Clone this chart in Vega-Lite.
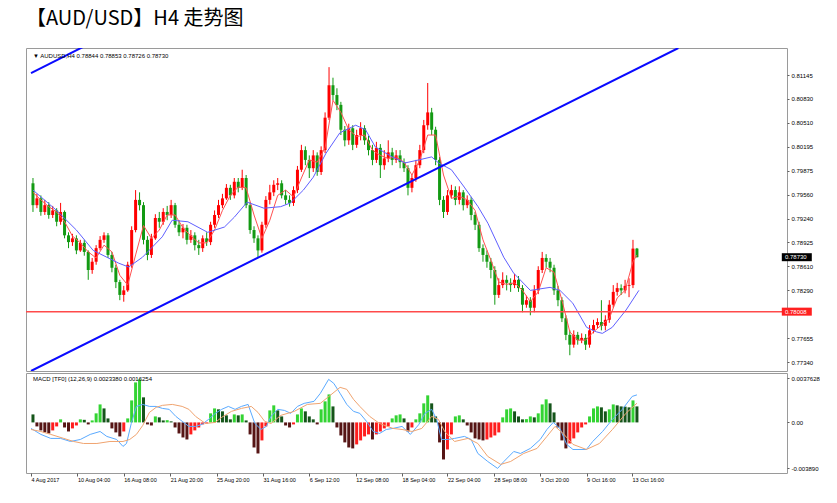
{
"$schema":"https://vega.github.io/schema/vega-lite/v6.json",
"background":"white",
"padding":{"left":24,"top":8,"right":0,"bottom":0},
"title":{"text":"【AUD/USD】H4 走势图","anchor":"start","frame":"group","font":"Noto Sans CJK SC","fontSize":20,"fontWeight":"normal","color":"#000000","offset":19},
"spacing":0,
"resolve":{"scale":{"x":"independent","y":"independent","color":"independent"}},
"config":{"view":{"stroke":"#9a9a9a","strokeWidth":1},"axis":{"labelFont":"Liberation Sans","labelFontSize":6,"labelColor":"#000000","tickColor":"#606060","tickSize":2,"domain":false,"grid":false,"labelPadding":2}},
"datasets":{
"k":[
{"i":0,"o":0.7971,"h":0.7978,"l":0.7933,"c":0.7942},
{"i":1,"o":0.7942,"h":0.7957,"l":0.7938,"c":0.7951},
{"i":2,"o":0.7951,"h":0.7955,"l":0.7928,"c":0.7933},
{"i":3,"o":0.7933,"h":0.7949,"l":0.7929,"c":0.7942},
{"i":4,"o":0.7942,"h":0.7946,"l":0.7924,"c":0.7929},
{"i":5,"o":0.7929,"h":0.7941,"l":0.7925,"c":0.7935},
{"i":6,"o":0.7935,"h":0.7938,"l":0.7914,"c":0.7920},
{"i":7,"o":0.7920,"h":0.7945,"l":0.7916,"c":0.7933},
{"i":8,"o":0.7933,"h":0.7935,"l":0.7898,"c":0.7902},
{"i":9,"o":0.7902,"h":0.7906,"l":0.7885,"c":0.7893},
{"i":10,"o":0.7893,"h":0.7904,"l":0.7888,"c":0.7898},
{"i":11,"o":0.7898,"h":0.7902,"l":0.7877,"c":0.7882},
{"i":12,"o":0.7882,"h":0.7896,"l":0.7880,"c":0.7892},
{"i":13,"o":0.7892,"h":0.7896,"l":0.7875,"c":0.7880},
{"i":14,"o":0.7880,"h":0.7882,"l":0.7843,"c":0.7856},
{"i":15,"o":0.7856,"h":0.7872,"l":0.7851,"c":0.7867},
{"i":16,"o":0.7867,"h":0.7889,"l":0.7863,"c":0.7885},
{"i":17,"o":0.7885,"h":0.7901,"l":0.7882,"c":0.7896},
{"i":18,"o":0.7896,"h":0.7906,"l":0.7892,"c":0.7902},
{"i":19,"o":0.7902,"h":0.7905,"l":0.7872,"c":0.7876},
{"i":20,"o":0.7876,"h":0.7880,"l":0.7853,"c":0.7859},
{"i":21,"o":0.7859,"h":0.7863,"l":0.7832,"c":0.7840},
{"i":22,"o":0.7840,"h":0.7843,"l":0.7816,"c":0.7823},
{"i":23,"o":0.7823,"h":0.7835,"l":0.7814,"c":0.7829},
{"i":24,"o":0.7829,"h":0.7867,"l":0.7827,"c":0.7863},
{"i":25,"o":0.7863,"h":0.7914,"l":0.7859,"c":0.7909},
{"i":26,"o":0.7909,"h":0.7962,"l":0.7906,"c":0.7949},
{"i":27,"o":0.7949,"h":0.7959,"l":0.7935,"c":0.7942},
{"i":28,"o":0.7942,"h":0.7946,"l":0.7890,"c":0.7896},
{"i":29,"o":0.7896,"h":0.7901,"l":0.7869,"c":0.7876},
{"i":30,"o":0.7876,"h":0.7904,"l":0.7872,"c":0.7898},
{"i":31,"o":0.7898,"h":0.7930,"l":0.7896,"c":0.7925},
{"i":32,"o":0.7925,"h":0.7933,"l":0.7912,"c":0.7920},
{"i":33,"o":0.7920,"h":0.7938,"l":0.7916,"c":0.7933},
{"i":34,"o":0.7933,"h":0.7941,"l":0.7922,"c":0.7929},
{"i":35,"o":0.7929,"h":0.7949,"l":0.7925,"c":0.7942},
{"i":36,"o":0.7942,"h":0.7945,"l":0.7912,"c":0.7916},
{"i":37,"o":0.7916,"h":0.7922,"l":0.7901,"c":0.7906},
{"i":38,"o":0.7906,"h":0.7917,"l":0.7898,"c":0.7912},
{"i":39,"o":0.7912,"h":0.7916,"l":0.7890,"c":0.7896},
{"i":40,"o":0.7896,"h":0.7909,"l":0.7892,"c":0.7902},
{"i":41,"o":0.7902,"h":0.7906,"l":0.7882,"c":0.7889},
{"i":42,"o":0.7889,"h":0.7896,"l":0.7876,"c":0.7885},
{"i":43,"o":0.7885,"h":0.7902,"l":0.7880,"c":0.7898},
{"i":44,"o":0.7898,"h":0.7906,"l":0.7888,"c":0.7893},
{"i":45,"o":0.7893,"h":0.7920,"l":0.7889,"c":0.7916},
{"i":46,"o":0.7916,"h":0.7935,"l":0.7912,"c":0.7929},
{"i":47,"o":0.7929,"h":0.7949,"l":0.7925,"c":0.7942},
{"i":48,"o":0.7942,"h":0.7957,"l":0.7938,"c":0.7951},
{"i":49,"o":0.7951,"h":0.7970,"l":0.7949,"c":0.7965},
{"i":50,"o":0.7965,"h":0.7969,"l":0.7949,"c":0.7955},
{"i":51,"o":0.7955,"h":0.7978,"l":0.7951,"c":0.7973},
{"i":52,"o":0.7973,"h":0.7978,"l":0.7959,"c":0.7965},
{"i":53,"o":0.7965,"h":0.7989,"l":0.7962,"c":0.7978},
{"i":54,"o":0.7978,"h":0.7982,"l":0.7938,"c":0.7942},
{"i":55,"o":0.7942,"h":0.7946,"l":0.7904,"c":0.7909},
{"i":56,"o":0.7909,"h":0.7914,"l":0.7892,"c":0.7898},
{"i":57,"o":0.7898,"h":0.7902,"l":0.7872,"c":0.7882},
{"i":58,"o":0.7882,"h":0.7920,"l":0.7879,"c":0.7916},
{"i":59,"o":0.7916,"h":0.7954,"l":0.7912,"c":0.7949},
{"i":60,"o":0.7949,"h":0.7969,"l":0.7943,"c":0.7959},
{"i":61,"o":0.7959,"h":0.7975,"l":0.7954,"c":0.7969},
{"i":62,"o":0.7969,"h":0.7978,"l":0.7962,"c":0.7971},
{"i":63,"o":0.7971,"h":0.7975,"l":0.7951,"c":0.7955},
{"i":64,"o":0.7955,"h":0.7962,"l":0.7943,"c":0.7949},
{"i":65,"o":0.7949,"h":0.7955,"l":0.7940,"c":0.7945},
{"i":66,"o":0.7945,"h":0.7967,"l":0.7941,"c":0.7962},
{"i":67,"o":0.7962,"h":0.7994,"l":0.7958,"c":0.7989},
{"i":68,"o":0.7989,"h":0.8022,"l":0.7986,"c":0.8015},
{"i":69,"o":0.8015,"h":0.8020,"l":0.7995,"c":0.8002},
{"i":70,"o":0.8002,"h":0.8008,"l":0.7978,"c":0.7991},
{"i":71,"o":0.7991,"h":0.8015,"l":0.7986,"c":0.8008},
{"i":72,"o":0.8008,"h":0.8012,"l":0.7981,"c":0.7986},
{"i":73,"o":0.7986,"h":0.8020,"l":0.7982,"c":0.8015},
{"i":74,"o":0.8015,"h":0.8065,"l":0.8011,"c":0.8058},
{"i":75,"o":0.8058,"h":0.8125,"l":0.8055,"c":0.8101},
{"i":76,"o":0.8101,"h":0.8111,"l":0.8081,"c":0.8088},
{"i":77,"o":0.8088,"h":0.8097,"l":0.8068,"c":0.8075},
{"i":78,"o":0.8075,"h":0.8079,"l":0.8035,"c":0.8042},
{"i":79,"o":0.8042,"h":0.8047,"l":0.8020,"c":0.8028},
{"i":80,"o":0.8028,"h":0.8050,"l":0.8022,"c":0.8044},
{"i":81,"o":0.8044,"h":0.8048,"l":0.8015,"c":0.8022},
{"i":82,"o":0.8022,"h":0.8042,"l":0.8018,"c":0.8035},
{"i":83,"o":0.8035,"h":0.8052,"l":0.8028,"c":0.8044},
{"i":84,"o":0.8044,"h":0.8048,"l":0.8022,"c":0.8028},
{"i":85,"o":0.8028,"h":0.8034,"l":0.8008,"c":0.8015},
{"i":86,"o":0.8015,"h":0.8022,"l":0.7995,"c":0.8002},
{"i":87,"o":0.8002,"h":0.8026,"l":0.7998,"c":0.8018},
{"i":88,"o":0.8018,"h":0.8023,"l":0.7978,"c":0.7995},
{"i":89,"o":0.7995,"h":0.8015,"l":0.7989,"c":0.8004},
{"i":90,"o":0.8004,"h":0.8028,"l":0.7999,"c":0.8012},
{"i":91,"o":0.8012,"h":0.8018,"l":0.7995,"c":0.8002},
{"i":92,"o":0.8002,"h":0.8015,"l":0.7998,"c":0.8008},
{"i":93,"o":0.8008,"h":0.8015,"l":0.7991,"c":0.7999},
{"i":94,"o":0.7999,"h":0.8004,"l":0.7986,"c":0.7991},
{"i":95,"o":0.7991,"h":0.7995,"l":0.7955,"c":0.7965},
{"i":96,"o":0.7965,"h":0.7983,"l":0.7959,"c":0.7978},
{"i":97,"o":0.7978,"h":0.8002,"l":0.7973,"c":0.7995},
{"i":98,"o":0.7995,"h":0.8022,"l":0.7991,"c":0.8015},
{"i":99,"o":0.8015,"h":0.8055,"l":0.8011,"c":0.8048},
{"i":100,"o":0.8048,"h":0.8104,"l":0.8042,"c":0.8065},
{"i":101,"o":0.8065,"h":0.8071,"l":0.8035,"c":0.8042},
{"i":102,"o":0.8042,"h":0.8046,"l":0.7995,"c":0.8002},
{"i":103,"o":0.8002,"h":0.8006,"l":0.7942,"c":0.7949},
{"i":104,"o":0.7949,"h":0.7954,"l":0.7925,"c":0.7933},
{"i":105,"o":0.7933,"h":0.7962,"l":0.7929,"c":0.7955},
{"i":106,"o":0.7955,"h":0.7969,"l":0.7951,"c":0.7962},
{"i":107,"o":0.7962,"h":0.7967,"l":0.7942,"c":0.7949},
{"i":108,"o":0.7949,"h":0.7967,"l":0.7943,"c":0.7959},
{"i":109,"o":0.7959,"h":0.7962,"l":0.7935,"c":0.7942},
{"i":110,"o":0.7942,"h":0.7955,"l":0.7938,"c":0.7949},
{"i":111,"o":0.7949,"h":0.7953,"l":0.7922,"c":0.7929},
{"i":112,"o":0.7929,"h":0.7933,"l":0.7909,"c":0.7916},
{"i":113,"o":0.7916,"h":0.7920,"l":0.7880,"c":0.7885},
{"i":114,"o":0.7885,"h":0.7890,"l":0.7867,"c":0.7876},
{"i":115,"o":0.7876,"h":0.7882,"l":0.7859,"c":0.7867},
{"i":116,"o":0.7867,"h":0.7872,"l":0.7845,"c":0.7856},
{"i":117,"o":0.7856,"h":0.7861,"l":0.7810,"c":0.7823},
{"i":118,"o":0.7823,"h":0.7845,"l":0.7819,"c":0.7836},
{"i":119,"o":0.7836,"h":0.7853,"l":0.7832,"c":0.7843},
{"i":120,"o":0.7843,"h":0.7849,"l":0.7829,"c":0.7839},
{"i":121,"o":0.7839,"h":0.7845,"l":0.7827,"c":0.7836},
{"i":122,"o":0.7836,"h":0.7851,"l":0.7832,"c":0.7843},
{"i":123,"o":0.7843,"h":0.7848,"l":0.7827,"c":0.7832},
{"i":124,"o":0.7832,"h":0.7836,"l":0.7800,"c":0.7810},
{"i":125,"o":0.7810,"h":0.7822,"l":0.7806,"c":0.7816},
{"i":126,"o":0.7816,"h":0.7820,"l":0.7796,"c":0.7806},
{"i":127,"o":0.7806,"h":0.7836,"l":0.7800,"c":0.7829},
{"i":128,"o":0.7829,"h":0.7861,"l":0.7824,"c":0.7856},
{"i":129,"o":0.7856,"h":0.7880,"l":0.7852,"c":0.7872},
{"i":130,"o":0.7872,"h":0.7877,"l":0.7859,"c":0.7867},
{"i":131,"o":0.7867,"h":0.7872,"l":0.7853,"c":0.7859},
{"i":132,"o":0.7859,"h":0.7863,"l":0.7823,"c":0.7829},
{"i":133,"o":0.7829,"h":0.7835,"l":0.7808,"c":0.7816},
{"i":134,"o":0.7816,"h":0.7820,"l":0.7787,"c":0.7792},
{"i":135,"o":0.7792,"h":0.7796,"l":0.7763,"c":0.7770},
{"i":136,"o":0.7770,"h":0.7776,"l":0.7743,"c":0.7757},
{"i":137,"o":0.7757,"h":0.7776,"l":0.7753,"c":0.7770},
{"i":138,"o":0.7770,"h":0.7774,"l":0.7757,"c":0.7763},
{"i":139,"o":0.7763,"h":0.7772,"l":0.7759,"c":0.7766},
{"i":140,"o":0.7766,"h":0.7771,"l":0.7750,"c":0.7757},
{"i":141,"o":0.7757,"h":0.7783,"l":0.7753,"c":0.7776},
{"i":142,"o":0.7776,"h":0.7790,"l":0.7772,"c":0.7783},
{"i":143,"o":0.7783,"h":0.7792,"l":0.7779,"c":0.7787},
{"i":144,"o":0.7787,"h":0.7816,"l":0.7776,"c":0.7782},
{"i":145,"o":0.7782,"h":0.7796,"l":0.7776,"c":0.7790},
{"i":146,"o":0.7790,"h":0.7816,"l":0.7786,"c":0.7810},
{"i":147,"o":0.7810,"h":0.7836,"l":0.7806,"c":0.7827},
{"i":148,"o":0.7827,"h":0.7839,"l":0.7822,"c":0.7832},
{"i":149,"o":0.7832,"h":0.7837,"l":0.7823,"c":0.7829},
{"i":150,"o":0.7829,"h":0.7843,"l":0.7825,"c":0.7835},
{"i":151,"o":0.7835,"h":0.7845,"l":0.7820,"c":0.7836},
{"i":152,"o":0.7836,"h":0.7896,"l":0.7832,"c":0.78844},
{"i":153,"o":0.78844,"h":0.78853,"l":0.78726,"c":0.78730}
],
"rm":[
{"i":0,"v":0.7959},{"i":2,"v":0.7949},{"i":4,"v":0.7940},{"i":6,"v":0.7933},{"i":8,"v":0.7920},{"i":10,"v":0.7901},{"i":12,"v":0.7892},{"i":14,"v":0.7880},{"i":16,"v":0.7872},{"i":18,"v":0.7889},{"i":20,"v":0.7880},{"i":22,"v":0.7849},{"i":24,"v":0.7836},{"i":26,"v":0.7876},{"i":28,"v":0.7915},{"i":30,"v":0.7898},{"i":32,"v":0.7909},{"i":34,"v":0.7929},{"i":36,"v":0.7929},{"i":38,"v":0.7912},{"i":40,"v":0.7901},{"i":42,"v":0.7892},{"i":44,"v":0.7892},{"i":46,"v":0.7909},{"i":48,"v":0.7935},{"i":50,"v":0.7955},{"i":52,"v":0.7966},{"i":54,"v":0.7965},{"i":56,"v":0.7929},{"i":58,"v":0.7898},{"i":60,"v":0.7922},{"i":62,"v":0.7955},{"i":64,"v":0.7962},{"i":66,"v":0.7953},{"i":68,"v":0.7978},{"i":70,"v":0.8002},{"i":72,"v":0.7999},{"i":74,"v":0.8018},{"i":76,"v":0.8081},{"i":78,"v":0.8065},{"i":80,"v":0.8042},{"i":82,"v":0.8033},{"i":84,"v":0.8035},{"i":86,"v":0.8015},{"i":88,"v":0.8008},{"i":90,"v":0.8004},{"i":92,"v":0.8006},{"i":94,"v":0.7999},{"i":96,"v":0.7982},{"i":98,"v":0.8002},{"i":100,"v":0.8035},{"i":102,"v":0.8035},{"i":104,"v":0.7982},{"i":106,"v":0.7951},{"i":108,"v":0.7954},{"i":110,"v":0.7949},{"i":112,"v":0.7935},{"i":114,"v":0.7896},{"i":116,"v":0.7869},{"i":118,"v":0.7840},{"i":120,"v":0.7837},{"i":122,"v":0.7839},{"i":124,"v":0.7829},{"i":126,"v":0.7814},{"i":128,"v":0.7827},{"i":130,"v":0.7859},{"i":132,"v":0.7853},{"i":134,"v":0.7816},{"i":136,"v":0.7774},{"i":138,"v":0.7763},{"i":140,"v":0.7763},{"i":142,"v":0.7774},{"i":144,"v":0.7783},{"i":146,"v":0.7792},{"i":148,"v":0.7819},{"i":150,"v":0.7829},{"i":152,"v":0.7867},{"i":153,"v":0.7876}
],
"bm":[
{"i":0,"v":0.7962},{"i":6,"v":0.7935},{"i":11,"v":0.7909},{"i":15.25,"v":0.7882},{"i":21.75,"v":0.7865},{"i":24.25,"v":0.7860},{"i":27.75,"v":0.7873},{"i":32.75,"v":0.7900},{"i":35.25,"v":0.7922},{"i":39.25,"v":0.7920},{"i":44.25,"v":0.7906},{"i":48.5,"v":0.7913},{"i":51,"v":0.7926},{"i":54.25,"v":0.7946},{"i":58.5,"v":0.7938},{"i":62.75,"v":0.7940},{"i":65.25,"v":0.7945},{"i":68.5,"v":0.7962},{"i":71,"v":0.7979},{"i":74.25,"v":0.8011},{"i":77.75,"v":0.8038},{"i":81.75,"v":0.8048},{"i":84.25,"v":0.8042},{"i":86.75,"v":0.8019},{"i":91,"v":0.8006},{"i":94.25,"v":0.7998},{"i":97.75,"v":0.8002},{"i":101,"v":0.8006},{"i":102.75,"v":0.7998},{"i":106,"v":0.7989},{"i":109.25,"v":0.7966},{"i":112.75,"v":0.7940},{"i":115.25,"v":0.7918},{"i":119.25,"v":0.7873},{"i":121.75,"v":0.7852},{"i":126,"v":0.7829},{"i":131,"v":0.7833},{"i":133.5,"v":0.7829},{"i":136.75,"v":0.7812},{"i":140.25,"v":0.7780},{"i":142.75,"v":0.7774},{"i":144.25,"v":0.7772},{"i":146.75,"v":0.7780},{"i":150.25,"v":0.7803},{"i":153.5,"v":0.7829}
],
"tl":[
{"g":"a","i":-0.5,"p":0.77221},{"g":"a","i":163.5,"p":0.81504},
{"g":"b","i":-0.5,"p":0.81172},{"g":"b","i":20,"p":0.8171}
],
"pl":[
{"p":0.7873,"t":"0.78730","kind":"last"},
{"p":0.78008,"t":"0.78008","kind":"line"}
],
"mh":[
{"i":0,"m":0.00068,"k":"dg"},{"i":1,"m":-0.00034,"k":"dr"},{"i":2,"m":-0.00068,"k":"dr"},{"i":3,"m":-0.00085,"k":"dr"},{"i":4,"m":-0.00094,"k":"dr"},{"i":5,"m":-0.00068,"k":"ur"},{"i":6,"m":-0.00034,"k":"ur"},{"i":7,"m":0.00026,"k":"ug"},{"i":8,"m":-0.00043,"k":"dr"},{"i":9,"m":-0.00077,"k":"dr"},
{"i":10,"m":-0.00051,"k":"ur"},{"i":11,"m":-0.00026,"k":"ur"},{"i":12,"m":0.00026,"k":"ug"},{"i":13,"m":0.00022,"k":"dg"},{"i":14,"m":-0.00017,"k":"dr"},{"i":15,"m":0.00017,"k":"ug"},{"i":16,"m":0.00077,"k":"ug"},{"i":17,"m":0.00153,"k":"ug"},{"i":18,"m":0.00119,"k":"dg"},{"i":19,"m":0.00034,"k":"dg"},
{"i":20,"m":-0.00051,"k":"dr"},{"i":21,"m":-0.00085,"k":"dr"},{"i":22,"m":-0.00119,"k":"dr"},{"i":23,"m":-0.00077,"k":"ur"},{"i":24,"m":0.00034,"k":"ug"},{"i":25,"m":0.00187,"k":"ug"},{"i":26,"m":0.0034,"k":"ug"},{"i":27,"m":0.00366,"k":"ug"},{"i":28,"m":0.00213,"k":"dg"},{"i":29,"m":-0.00017,"k":"dr"},
{"i":30,"m":-0.00026,"k":"dr"},{"i":31,"m":0.00051,"k":"ug"},{"i":32,"m":0.00043,"k":"dg"},{"i":33,"m":0.00017,"k":"dg"},{"i":34,"m":0.00019,"k":"ug"},{"i":35,"m":0.00009,"k":"dg"},{"i":36,"m":-0.00043,"k":"dr"},{"i":37,"m":-0.00094,"k":"dr"},{"i":38,"m":-0.00128,"k":"dr"},{"i":39,"m":-0.00145,"k":"dr"},
{"i":40,"m":-0.00102,"k":"ur"},{"i":41,"m":-0.00068,"k":"ur"},{"i":42,"m":-0.00043,"k":"ur"},{"i":43,"m":-0.00017,"k":"ur"},{"i":44,"m":-0.00009,"k":"ur"},{"i":45,"m":0.00077,"k":"ug"},{"i":46,"m":0.00119,"k":"ug"},{"i":47,"m":0.00111,"k":"dg"},{"i":48,"m":0.00094,"k":"dg"},{"i":49,"m":0.0006,"k":"dg"},
{"i":50,"m":0.00026,"k":"dg"},{"i":51,"m":0.00068,"k":"ug"},{"i":52,"m":0.0006,"k":"dg"},{"i":53,"m":0.00068,"k":"ug"},{"i":54,"m":0.00017,"k":"dg"},{"i":55,"m":-0.00102,"k":"dr"},{"i":56,"m":-0.00213,"k":"dr"},{"i":57,"m":-0.00264,"k":"dr"},{"i":58,"m":-0.00153,"k":"ur"},{"i":59,"m":-0.00034,"k":"ur"},
{"i":60,"m":0.00102,"k":"ug"},{"i":61,"m":0.00145,"k":"ug"},{"i":62,"m":0.00102,"k":"dg"},{"i":63,"m":0.00051,"k":"dg"},{"i":64,"m":-0.00026,"k":"dr"},{"i":65,"m":-0.00043,"k":"dr"},{"i":66,"m":-0.00017,"k":"ur"},{"i":67,"m":0.00068,"k":"ug"},{"i":68,"m":0.00119,"k":"ug"},{"i":69,"m":0.00094,"k":"dg"},
{"i":70,"m":0.00051,"k":"dg"},{"i":71,"m":0.00026,"k":"dg"},{"i":72,"m":-0.00017,"k":"dr"},{"i":73,"m":0.00111,"k":"ug"},{"i":74,"m":0.00179,"k":"ug"},{"i":75,"m":0.00238,"k":"ug"},{"i":76,"m":0.00136,"k":"dg"},{"i":77,"m":-0.00043,"k":"dr"},{"i":78,"m":-0.00111,"k":"dr"},{"i":79,"m":-0.0017,"k":"dr"},
{"i":80,"m":-0.00213,"k":"dr"},{"i":81,"m":-0.00221,"k":"dr"},{"i":82,"m":-0.00187,"k":"ur"},{"i":83,"m":-0.00153,"k":"ur"},{"i":84,"m":-0.00119,"k":"ur"},{"i":85,"m":-0.00102,"k":"ur"},{"i":86,"m":-0.00145,"k":"dr"},{"i":87,"m":-0.00102,"k":"ur"},{"i":88,"m":-0.00077,"k":"ur"},{"i":89,"m":-0.00051,"k":"ur"},
{"i":90,"m":-0.00034,"k":"ur"},{"i":91,"m":0.00034,"k":"ug"},{"i":92,"m":0.0006,"k":"ug"},{"i":93,"m":0.00068,"k":"ug"},{"i":94,"m":0.00034,"k":"dg"},{"i":95,"m":-0.00077,"k":"dr"},{"i":96,"m":-0.00043,"k":"ur"},{"i":97,"m":0.00026,"k":"ug"},{"i":98,"m":0.00077,"k":"ug"},{"i":99,"m":0.00162,"k":"ug"},
{"i":100,"m":0.0023,"k":"ug"},{"i":101,"m":0.00162,"k":"dg"},{"i":102,"m":0.00051,"k":"dg"},{"i":103,"m":-0.0017,"k":"dr"},{"i":104,"m":-0.00315,"k":"dr"},{"i":105,"m":-0.0023,"k":"ur"},{"i":106,"m":-0.00102,"k":"ur"},{"i":107,"m":0.00051,"k":"ug"},{"i":108,"m":0.0006,"k":"ug"},{"i":109,"m":0.00026,"k":"dg"},
{"i":110,"m":-0.00026,"k":"dr"},{"i":111,"m":-0.00085,"k":"dr"},{"i":112,"m":-0.00136,"k":"dr"},{"i":113,"m":-0.00145,"k":"dr"},{"i":114,"m":-0.00153,"k":"dr"},{"i":115,"m":-0.00145,"k":"ur"},{"i":116,"m":-0.00128,"k":"ur"},{"i":117,"m":-0.00111,"k":"ur"},{"i":118,"m":-0.00085,"k":"ur"},{"i":119,"m":0.00043,"k":"ug"},
{"i":120,"m":0.00111,"k":"ug"},{"i":121,"m":0.00119,"k":"ug"},{"i":122,"m":0.00094,"k":"dg"},{"i":123,"m":0.00051,"k":"dg"},{"i":124,"m":0.00026,"k":"dg"},{"i":125,"m":0.00028,"k":"ug"},{"i":126,"m":0.00051,"k":"ug"},{"i":127,"m":0.00043,"k":"dg"},{"i":128,"m":0.00077,"k":"ug"},{"i":129,"m":0.00153,"k":"ug"},
{"i":130,"m":0.00196,"k":"ug"},{"i":131,"m":0.00162,"k":"dg"},{"i":132,"m":0.00085,"k":"dg"},{"i":133,"m":-0.00043,"k":"dr"},{"i":134,"m":-0.00153,"k":"dr"},{"i":135,"m":-0.00221,"k":"dr"},{"i":136,"m":-0.00179,"k":"ur"},{"i":137,"m":-0.00136,"k":"ur"},{"i":138,"m":-0.00085,"k":"ur"},{"i":139,"m":-0.00043,"k":"ur"},
{"i":140,"m":-0.00017,"k":"ur"},{"i":141,"m":0.00051,"k":"ug"},{"i":142,"m":0.00119,"k":"ug"},{"i":143,"m":0.00136,"k":"ug"},{"i":144,"m":0.00128,"k":"dg"},{"i":145,"m":0.00094,"k":"dg"},{"i":146,"m":0.00111,"k":"ug"},{"i":147,"m":0.00153,"k":"ug"},{"i":148,"m":0.00145,"k":"dg"},{"i":149,"m":0.00136,"k":"dg"},
{"i":150,"m":0.00134,"k":"dg"},{"i":151,"m":0.00128,"k":"dg"},{"i":152,"m":0.00187,"k":"ug"},{"i":153,"m":0.00136,"k":"dg"}
],
"mb":[
{"i":-0.5,"v":-0.00051},{"i":2,"v":-0.00102},{"i":4.5,"v":-0.00136},{"i":7,"v":-0.00136},{"i":9.5,"v":-0.00162},{"i":12,"v":-0.00145},{"i":14.5,"v":-0.00102},{"i":17,"v":-0.00077},{"i":18.7,"v":-0.00119},{"i":21.2,"v":-0.00145},{"i":22.8,"v":-0.00204},{"i":23.7,"v":-0.00179},{"i":24.9,"v":-0.00009},{"i":26.2,"v":0.00136},{"i":27.8,"v":0.00153},{"i":29.5,"v":0.00136},{"i":31.2,"v":0.00136},{"i":32.8,"v":0.00119},{"i":34.5,"v":0.00111},{"i":36.2,"v":0.00051},{"i":37.8,"v":0.00009},{"i":39.5,"v":-0.00034},{"i":41.2,"v":-0.00034},{"i":42.8,"v":-0.00017},{"i":44.5,"v":0.00026},{"i":46.2,"v":0.00077},{"i":47.8,"v":0.00111},{"i":49.5,"v":0.00136},{"i":51.2,"v":0.00111},{"i":52.8,"v":0.00136},{"i":54.5,"v":0.00153},{"i":56.2,"v":-0.00009},{"i":57.8,"v":-0.0006},{"i":59.1,"v":-0.00034},{"i":60.3,"v":0.00051},{"i":62,"v":0.00111},{"i":63.7,"v":0.00102},{"i":65.3,"v":0.00077},{"i":67,"v":0.00136},{"i":68.7,"v":0.00162},{"i":71.2,"v":0.00179},{"i":72.8,"v":0.00247},{"i":74.9,"v":0.00366},{"i":76.2,"v":0.00332},{"i":77.8,"v":0.00247},{"i":79.5,"v":0.00153},{"i":81.2,"v":0.00094},{"i":82.8,"v":0.00077},{"i":84.5,"v":0.00009},{"i":86.2,"v":-0.00077},{"i":87.8,"v":-0.00094},{"i":89.5,"v":-0.0006},{"i":91.2,"v":-0.00051},{"i":93.5,"v":-0.00034},{"i":95.6,"v":-0.00102},{"i":97.7,"v":-0.0002},{"i":99.3,"v":0.00077},{"i":101,"v":0.00111},{"i":102.25,"v":0.00026},{"i":103.5,"v":-0.00145},{"i":105.2,"v":-0.00145},{"i":106.8,"v":-0.00136},{"i":109.3,"v":-0.00119},{"i":111,"v":-0.00145},{"i":112.7,"v":-0.00264},{"i":115.2,"v":-0.00332},{"i":117.7,"v":-0.00391},{"i":119.3,"v":-0.00332},{"i":121.8,"v":-0.00247},{"i":123.5,"v":-0.00264},{"i":126,"v":-0.00221},{"i":128.5,"v":-0.00145},{"i":130.2,"v":-0.0006},{"i":131.8,"v":0},{"i":133.5,"v":-0.00051},{"i":135.2,"v":-0.00187},{"i":136.8,"v":-0.0023},{"i":140.2,"v":-0.0023},{"i":141.8,"v":-0.00162},{"i":144.3,"v":-0.00077},{"i":146.8,"v":0.00026},{"i":149.3,"v":0.00111},{"i":151.8,"v":0.00221},{"i":153,"v":0.00234}
],
"ms":[
{"i":-0.5,"v":-0.0006},{"i":2,"v":-0.00077},{"i":4.5,"v":-0.00102},{"i":7.8,"v":-0.00136},{"i":10.3,"v":-0.00162},{"i":12.8,"v":-0.00179},{"i":16.2,"v":-0.00179},{"i":19.5,"v":-0.00162},{"i":22.8,"v":-0.00162},{"i":24.5,"v":-0.00145},{"i":26.2,"v":-0.00102},{"i":27.8,"v":-0.00026},{"i":29.5,"v":0.00085},{"i":31.2,"v":0.00128},{"i":32.8,"v":0.00145},{"i":35.3,"v":0.00153},{"i":37.8,"v":0.00136},{"i":39.5,"v":0.00111},{"i":41.2,"v":0.00051},{"i":43.7,"v":-0.00009},{"i":46.2,"v":0},{"i":47.8,"v":0.00043},{"i":50.3,"v":0.00094},{"i":52.8,"v":0.00119},{"i":55.3,"v":0.00136},{"i":57,"v":0.00085},{"i":58.7,"v":0.00009},{"i":60.3,"v":-0.00009},{"i":62.8,"v":0.0006},{"i":66.2,"v":0.00094},{"i":69.5,"v":0.00153},{"i":72.8,"v":0.00162},{"i":75.3,"v":0.0023},{"i":77.8,"v":0.00298},{"i":79.5,"v":0.00281},{"i":81.2,"v":0.00196},{"i":82.8,"v":0.00136},{"i":85.3,"v":0.00051},{"i":87.8,"v":-0.00009},{"i":91.2,"v":-0.00051},{"i":93.5,"v":-0.0006},{"i":96,"v":-0.00077},{"i":98.5,"v":-0.00051},{"i":101,"v":0.00051},{"i":102.7,"v":0.00026},{"i":104.3,"v":-0.00077},{"i":106.8,"v":-0.00162},{"i":110.2,"v":-0.00136},{"i":112.7,"v":-0.00179},{"i":115.2,"v":-0.00289},{"i":118.5,"v":-0.00357},{"i":121,"v":-0.00332},{"i":124.3,"v":-0.00264},{"i":127.7,"v":-0.00221},{"i":130.2,"v":-0.00119},{"i":132.25,"v":-0.00034},{"i":134.3,"v":-0.00094},{"i":136.8,"v":-0.00187},{"i":140.2,"v":-0.0023},{"i":143.5,"v":-0.00179},{"i":146.8,"v":-0.0006},{"i":150.2,"v":0.00077},{"i":153,"v":0.00163}
]
},
"vconcat":[
{"width":761,"height":323,
"layer":[
{"data":{"name":"k"},"mark":{"type":"rule","strokeWidth":1},
"encoding":{
"x":{"field":"i","type":"quantitative","scale":{"domain":[-0.5,189.75],"nice":false,"zero":false},"axis":null},
"y":{"field":"l","type":"quantitative","scale":{"domain":[0.77221,0.81504],"nice":false,"zero":false},"axis":{"orient":"right","title":null,"values":[0.81145,0.8083,0.8051,0.80195,0.79875,0.7956,0.7924,0.78925,0.7861,0.7829,0.77655,0.7734],"format":".5f","labelOverlap":false,"labelFlush":false}},
"y2":{"field":"h"},
"color":{"condition":{"test":"datum.c >= datum.o","value":"#ff0000"},"value":"#139a13"}}},
{"data":{"name":"k"},"mark":{"type":"bar","width":3,"orient":"vertical"},
"encoding":{
"x":{"field":"i","type":"quantitative","scale":{"domain":[-0.5,189.75],"nice":false,"zero":false},"axis":null},
"y":{"field":"o","type":"quantitative","scale":{"domain":[0.77221,0.81504],"nice":false,"zero":false},"axis":{"orient":"right","title":null,"values":[0.81145,0.8083,0.8051,0.80195,0.79875,0.7956,0.7924,0.78925,0.7861,0.7829,0.77655,0.7734],"format":".5f","labelOverlap":false,"labelFlush":false}},
"y2":{"field":"c"},
"color":{"condition":{"test":"datum.c >= datum.o","value":"#ff0000"},"value":"#139a13"}}},
{"data":{"name":"rm"},"mark":{"type":"line","color":"#ff5050","strokeWidth":1},
"encoding":{
"x":{"field":"i","type":"quantitative","scale":{"domain":[-0.5,189.75],"nice":false,"zero":false},"axis":null},
"y":{"field":"v","type":"quantitative","scale":{"domain":[0.77221,0.81504],"nice":false,"zero":false},"axis":{"orient":"right","title":null,"values":[0.81145,0.8083,0.8051,0.80195,0.79875,0.7956,0.7924,0.78925,0.7861,0.7829,0.77655,0.7734],"format":".5f","labelOverlap":false,"labelFlush":false}}}},
{"data":{"name":"bm"},"mark":{"type":"line","color":"#5f5fff","strokeWidth":1},
"encoding":{
"x":{"field":"i","type":"quantitative","scale":{"domain":[-0.5,189.75],"nice":false,"zero":false},"axis":null},
"y":{"field":"v","type":"quantitative","scale":{"domain":[0.77221,0.81504],"nice":false,"zero":false},"axis":{"orient":"right","title":null,"values":[0.81145,0.8083,0.8051,0.80195,0.79875,0.7956,0.7924,0.78925,0.7861,0.7829,0.77655,0.7734],"format":".5f","labelOverlap":false,"labelFlush":false}}}},
{"data":{"values":[{}]},"mark":{"type":"rule","color":"#ff4a4a","strokeWidth":1.5},
"encoding":{
"y":{"datum":0.78008,"type":"quantitative","scale":{"domain":[0.77221,0.81504],"nice":false,"zero":false},"axis":{"orient":"right","title":null,"values":[0.81145,0.8083,0.8051,0.80195,0.79875,0.7956,0.7924,0.78925,0.7861,0.7829,0.77655,0.7734],"format":".5f","labelOverlap":false,"labelFlush":false}}}},
{"data":{"name":"tl"},"mark":{"type":"line","color":"#0a0aff","strokeWidth":2,"clip":true},
"encoding":{
"x":{"field":"i","type":"quantitative","scale":{"domain":[-0.5,189.75],"nice":false,"zero":false},"axis":null},
"y":{"field":"p","type":"quantitative","scale":{"domain":[0.77221,0.81504],"nice":false,"zero":false},"axis":{"orient":"right","title":null,"values":[0.81145,0.8083,0.8051,0.80195,0.79875,0.7956,0.7924,0.78925,0.7861,0.7829,0.77655,0.7734],"format":".5f","labelOverlap":false,"labelFlush":false}},
"detail":{"field":"g"}}},
{"data":{"values":[{"t":"▼ AUDUSD,H4  0.78844 0.78853 0.78726 0.78730"}]},"mark":{"type":"text","align":"left","baseline":"middle","font":"Liberation Sans","fontSize":6,"color":"#000000"},
"encoding":{
"x":{"datum":0,"type":"quantitative","scale":{"domain":[-0.5,189.75],"nice":false,"zero":false},"axis":null},
"y":{"datum":0.814,"type":"quantitative","scale":{"domain":[0.77221,0.81504],"nice":false,"zero":false},"axis":{"orient":"right","title":null,"values":[0.81145,0.8083,0.8051,0.80195,0.79875,0.7956,0.7924,0.78925,0.7861,0.7829,0.77655,0.7734],"format":".5f","labelOverlap":false,"labelFlush":false}},
"text":{"field":"t"}}},
{"data":{"name":"pl"},"mark":{"type":"tick","orient":"horizontal","size":30,"thickness":8,"opacity":1},
"encoding":{
"x":{"datum":193.5,"type":"quantitative","scale":{"domain":[-0.5,189.75],"nice":false,"zero":false},"axis":null},
"y":{"field":"p","type":"quantitative","scale":{"domain":[0.77221,0.81504],"nice":false,"zero":false},"axis":{"orient":"right","title":null,"values":[0.81145,0.8083,0.8051,0.80195,0.79875,0.7956,0.7924,0.78925,0.7861,0.7829,0.77655,0.7734],"format":".5f","labelOverlap":false,"labelFlush":false}},
"color":{"field":"kind","type":"nominal","scale":{"domain":["last","line"],"range":["#000000","#ff2020"]},"legend":null}}},
{"data":{"name":"pl"},"mark":{"type":"text","align":"left","baseline":"middle","font":"Liberation Sans","fontSize":6,"color":"#ffffff"},
"encoding":{
"x":{"datum":190.5,"type":"quantitative","scale":{"domain":[-0.5,189.75],"nice":false,"zero":false},"axis":null},
"y":{"field":"p","type":"quantitative","scale":{"domain":[0.77221,0.81504],"nice":false,"zero":false},"axis":{"orient":"right","title":null,"values":[0.81145,0.8083,0.8051,0.80195,0.79875,0.7956,0.7924,0.78925,0.7861,0.7829,0.77655,0.7734],"format":".5f","labelOverlap":false,"labelFlush":false}},
"text":{"field":"t"}}}
]},
{"width":761,"height":100,
"layer":[
{"data":{"name":"mh"},"mark":{"type":"bar","width":3,"orient":"vertical"},
"encoding":{
"x":{"field":"i","type":"quantitative","scale":{"domain":[-0.5,189.75],"nice":false,"zero":false},"axis":{"orient":"bottom","title":null,"values":[-0.5,11.25,23,34.75,46.5,58.25,70,81.75,93.5,105,116.75,128.5,140.25,151.75],"labelExpr":"['4 Aug 2017','10 Aug 04:00','16 Aug 08:00','21 Aug 20:00','25 Aug 20:00','31 Aug 16:00','6 Sep 12:00','12 Sep 08:00','18 Sep 04:00','22 Sep 04:00','28 Sep 08:00','3 Oct 20:00','9 Oct 16:00','13 Oct 16:00'][indexof([-0.5,11.25,23,34.75,46.5,58.25,70,81.75,93.5,105,116.75,128.5,140.25,151.75], datum.value)]","labelAlign":"left","labelPadding":1,"tickSize":3,"labelFontSize":5.5,"labelOverlap":false,"labelFlush":false}},
"y":{"field":"m","type":"quantitative","scale":{"domain":[-0.0043,0.0042],"nice":false,"zero":false},"axis":{"orient":"right","title":null,"values":[0.0037628,0,-0.00389],"labelExpr":"datum.value > 0.001 ? '0.0037628' : (datum.value < -0.001 ? '-0.003890' : '0.00')","labelOverlap":false,"labelFlush":false}},
"y2":{"datum":0},
"color":{"field":"k","type":"nominal","scale":{"domain":["ug","dg","dr","ur"],"range":["#33d433","#15551a","#561515","#ff1e1e"]},"legend":null}}},
{"data":{"name":"mb"},"mark":{"type":"line","color":"#5aaaff","strokeWidth":1},
"encoding":{
"x":{"field":"i","type":"quantitative","scale":{"domain":[-0.5,189.75],"nice":false,"zero":false},"axis":{"orient":"bottom","title":null,"values":[-0.5,11.25,23,34.75,46.5,58.25,70,81.75,93.5,105,116.75,128.5,140.25,151.75],"labelExpr":"['4 Aug 2017','10 Aug 04:00','16 Aug 08:00','21 Aug 20:00','25 Aug 20:00','31 Aug 16:00','6 Sep 12:00','12 Sep 08:00','18 Sep 04:00','22 Sep 04:00','28 Sep 08:00','3 Oct 20:00','9 Oct 16:00','13 Oct 16:00'][indexof([-0.5,11.25,23,34.75,46.5,58.25,70,81.75,93.5,105,116.75,128.5,140.25,151.75], datum.value)]","labelAlign":"left","labelPadding":1,"tickSize":3,"labelFontSize":5.5,"labelOverlap":false,"labelFlush":false}},
"y":{"field":"v","type":"quantitative","scale":{"domain":[-0.0043,0.0042],"nice":false,"zero":false},"axis":{"orient":"right","title":null,"values":[0.0037628,0,-0.00389],"labelExpr":"datum.value > 0.001 ? '0.0037628' : (datum.value < -0.001 ? '-0.003890' : '0.00')","labelOverlap":false,"labelFlush":false}}}},
{"data":{"name":"ms"},"mark":{"type":"line","color":"#f0a470","strokeWidth":1},
"encoding":{
"x":{"field":"i","type":"quantitative","scale":{"domain":[-0.5,189.75],"nice":false,"zero":false},"axis":{"orient":"bottom","title":null,"values":[-0.5,11.25,23,34.75,46.5,58.25,70,81.75,93.5,105,116.75,128.5,140.25,151.75],"labelExpr":"['4 Aug 2017','10 Aug 04:00','16 Aug 08:00','21 Aug 20:00','25 Aug 20:00','31 Aug 16:00','6 Sep 12:00','12 Sep 08:00','18 Sep 04:00','22 Sep 04:00','28 Sep 08:00','3 Oct 20:00','9 Oct 16:00','13 Oct 16:00'][indexof([-0.5,11.25,23,34.75,46.5,58.25,70,81.75,93.5,105,116.75,128.5,140.25,151.75], datum.value)]","labelAlign":"left","labelPadding":1,"tickSize":3,"labelFontSize":5.5,"labelOverlap":false,"labelFlush":false}},
"y":{"field":"v","type":"quantitative","scale":{"domain":[-0.0043,0.0042],"nice":false,"zero":false},"axis":{"orient":"right","title":null,"values":[0.0037628,0,-0.00389],"labelExpr":"datum.value > 0.001 ? '0.0037628' : (datum.value < -0.001 ? '-0.003890' : '0.00')","labelOverlap":false,"labelFlush":false}}}},
{"data":{"values":[{"t":"MACD [TF0] (12,26,9) 0.0023380 0.0016254"}]},"mark":{"type":"text","align":"left","baseline":"middle","font":"Liberation Sans","fontSize":6,"color":"#000000"},
"encoding":{
"x":{"datum":0,"type":"quantitative","scale":{"domain":[-0.5,189.75],"nice":false,"zero":false},"axis":{"orient":"bottom","title":null,"values":[-0.5,11.25,23,34.75,46.5,58.25,70,81.75,93.5,105,116.75,128.5,140.25,151.75],"labelExpr":"['4 Aug 2017','10 Aug 04:00','16 Aug 08:00','21 Aug 20:00','25 Aug 20:00','31 Aug 16:00','6 Sep 12:00','12 Sep 08:00','18 Sep 04:00','22 Sep 04:00','28 Sep 08:00','3 Oct 20:00','9 Oct 16:00','13 Oct 16:00'][indexof([-0.5,11.25,23,34.75,46.5,58.25,70,81.75,93.5,105,116.75,128.5,140.25,151.75], datum.value)]","labelAlign":"left","labelPadding":1,"tickSize":3,"labelFontSize":5.5,"labelOverlap":false,"labelFlush":false}},
"y":{"datum":0.00369,"type":"quantitative","scale":{"domain":[-0.0043,0.0042],"nice":false,"zero":false},"axis":{"orient":"right","title":null,"values":[0.0037628,0,-0.00389],"labelExpr":"datum.value > 0.001 ? '0.0037628' : (datum.value < -0.001 ? '-0.003890' : '0.00')","labelOverlap":false,"labelFlush":false}},
"text":{"field":"t"}}}
]}
]
}
